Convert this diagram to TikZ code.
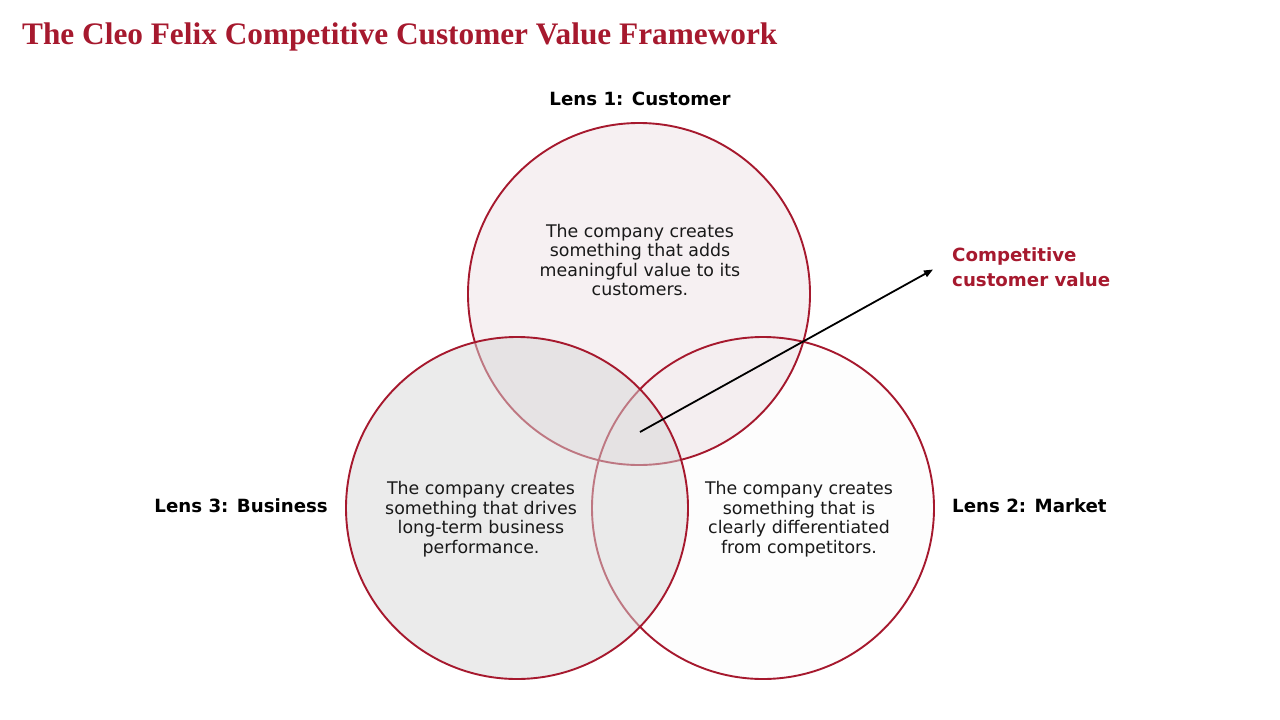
\documentclass[tikz,border=0pt]{standalone}
\usepackage{fontspec}
\setmainfont{DejaVu Sans}
\newfontfamily\titlefont{Liberation Serif}
\usetikzlibrary{arrows.meta}
\definecolor{cleored}{RGB}{166,25,46}
\definecolor{custfill}{RGB}{246,240,242}
\definecolor{bizfill}{RGB}{215,215,215}

\begin{document}
\begin{tikzpicture}[x=1pt,y=-1pt]
\useasboundingbox (0,0) rectangle (1280,720);
\tikzset{lens/.style={draw=cleored,line width=1.9pt},
  body/.style={align=center,text=black!90,font=\fontsize{17.4}{19.5}\selectfont},
  lenslabel/.style={font=\fontsize{18.2}{20}\selectfont\bfseries}}
% title
\node[anchor=base west,inner sep=0pt,text=cleored,font=\titlefont\fontsize{31.3}{34}\selectfont\bfseries] (title) at (22,44.3) {The Cleo Felix Competitive Customer Value Framework};
% the three lenses
\draw[lens,fill=custfill] (639,294) circle (171);
\draw[lens,fill=black,fill opacity=.007] (763,508) circle (171);
\draw[lens,fill=bizfill,fill opacity=.5] (517,508) circle (171);
\node[lenslabel,anchor=base] (cust) at (640,105.7) {Lens 1: Customer};
\node[lenslabel,anchor=base west,inner sep=0pt] (mkt) at (952,512.7) {Lens 2: Market};
\node[lenslabel,anchor=base east,inner sep=0pt] (biz) at (328,512.7) {Lens 3: Business};
\node[body] (custtext) at (640,260) {The company creates\\something that adds\\meaningful value to its\\customers.};
\node[body] (biztext) at (481,519) {The company creates\\something that drives\\long-term business\\performance.};
\node[body] (mkttext) at (799,519) {The company creates\\something that is\\clearly differentiated\\from competitors.};
% arrow to the label
\coordinate (core) at (640,432);
\coordinate (tip) at (933,269.5);
\node[anchor=west,align=left,inner sep=0pt,text=cleored,font=\fontsize{18.2}{25}\selectfont\bfseries] (value) at (952,267) {Competitive\\customer value};
\draw[line width=1.8pt,-{Triangle[length=9pt,width=7pt]}] (core) -- (tip);
\end{tikzpicture}
\end{document}
